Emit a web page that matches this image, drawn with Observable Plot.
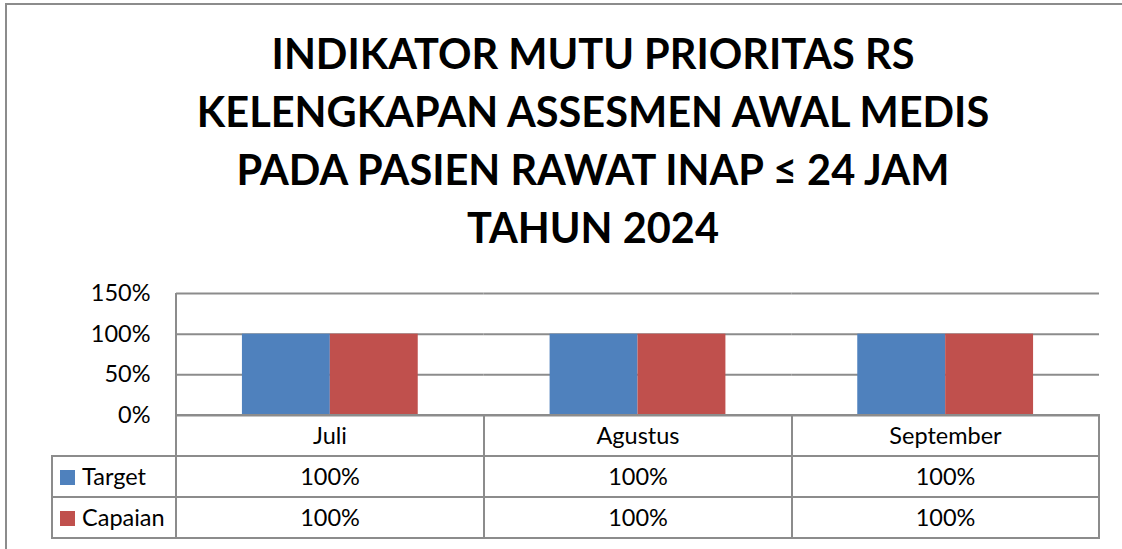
<!DOCTYPE html>
<html>
<head>
<meta charset="utf-8">
<script src="https://cdn.jsdelivr.net/npm/d3@7"></script>
<script src="https://cdn.jsdelivr.net/npm/@observablehq/plot@0.6"></script>
<style>
  html, body { margin: 0; padding: 0; background: #fff; overflow: hidden; width: 1122px; height: 549px; }
  body { font-family: Lato, "Open Sans", sans-serif; position: relative; }
  #frame { position: absolute; left: 5px; top: 3px; width: 1300px; height: 700px; border: 2px solid #8c8c8c; box-sizing: border-box; }
  #title { position: absolute; left: 0; top: 24px; width: 1186px; text-align: center; font-weight: 700; font-size: 41.5px; line-height: 58px; color: #000; }
  #chart { position: absolute; left: 0; top: 283px; }
  .ln { position: absolute; background: #8c8c8c; }
  .cell { position: absolute; height: 41px; line-height: 41px; font-size: 23.5px; color: #000; text-align: center; }
  .sw { position: absolute; width: 15px; height: 15px; }
</style>
</head>
<body>
<div id="frame"></div>
<div id="title"></div>
<div id="chart"></div>
<div id="table"></div>
<script>
const titleLines = ["INDIKATOR MUTU PRIORITAS RS", "KELENGKAPAN ASSESMEN AWAL MEDIS", "PADA PASIEN RAWAT INAP \u2264 24 JAM", "TAHUN 2024"];
const months = ["Juli", "Agustus", "September"];
const seriesNames = ["Target", "Capaian"];
const targetValues = [1.0, 1.0, 1.0];
const capaianValues = [1.0, 1.0, 1.0];
const yTicks = [0, 0.5, 1.0, 1.5];
const colors = ["#4F81BD", "#C0504D"];

document.getElementById("title").innerHTML = titleLines.join("<br>");

const data = [];
months.forEach((m, i) => {
  data.push({month: m, series: "Target", value: targetValues[i]});
  data.push({month: m, series: "Capaian", value: capaianValues[i]});
});

const pct = d => Math.round(d * 100) + "%";

const plot = Plot.plot({
  width: 1122,
  height: 134,
  marginLeft: 176,
  marginRight: 23,
  marginTop: 10,
  marginBottom: 2,
  style: {fontFamily: "Lato, 'Open Sans', sans-serif", fontSize: "23.5px", color: "#000", background: "transparent", overflow: "visible"},
  fx: {domain: months, padding: 0, round: false, axis: null, label: null},
  x: {domain: seriesNames, paddingInner: 0, paddingOuter: 0.75, align: 0.5, round: false, axis: null},
  y: {domain: [0, 1.5], ticks: yTicks, tickFormat: pct, tickSize: 0, tickPadding: 26, label: null},
  color: {domain: seriesNames, range: colors},
  marks: [
    Plot.ruleY(yTicks, {stroke: "#8c8c8c", strokeWidth: 2, strokeOpacity: 1}),
    Plot.barY(data, {fx: "month", x: "series", y: "value", fill: "series", inset: 0})
  ]
});
document.getElementById("chart").appendChild(plot);

// data table below the chart
const T = document.getElementById("table");
function line(x, y, w, h) {
  const d = document.createElement("div");
  d.className = "ln";
  Object.assign(d.style, {left: x + "px", top: y + "px", width: w + "px", height: h + "px"});
  T.appendChild(d);
}
function cell(x, y, w, text, align) {
  const d = document.createElement("div");
  d.className = "cell";
  Object.assign(d.style, {left: x + "px", top: y + "px", width: w + "px"});
  if (align) d.style.textAlign = align;
  d.textContent = text;
  T.appendChild(d);
}
const colX = [176, 484, 792, 1099];
const rowY = [415, 456, 497, 538];
// horizontal lines
line(176, rowY[0] - 1, 1099 - 176 + 1, 2);
for (let r = 1; r < 4; r++) line(52, rowY[r] - 1, 1099 - 52 + 1, 2);
// vertical lines
line(51, rowY[1] - 1, 2, rowY[3] - rowY[1] + 2);
line(175, 293, 2, rowY[3] - 293 + 1);
for (let c = 1; c < 4; c++) line(colX[c] - 1, rowY[0] - 1, 2, rowY[3] - rowY[0] + 2);

months.forEach((m, i) => {
  cell(colX[i], rowY[0], colX[i + 1] - colX[i], m);
  cell(colX[i], rowY[1], colX[i + 1] - colX[i], pct(targetValues[i]));
  cell(colX[i], rowY[2], colX[i + 1] - colX[i], pct(capaianValues[i]));
});
seriesNames.forEach((s, j) => {
  const sw = document.createElement("div");
  sw.className = "sw";
  Object.assign(sw.style, {left: "60px", top: (rowY[j + 1] + 14) + "px", background: colors[j]});
  T.appendChild(sw);
  cell(82, rowY[j + 1], 94, s, "left");
});
</script>
</body>
</html>
